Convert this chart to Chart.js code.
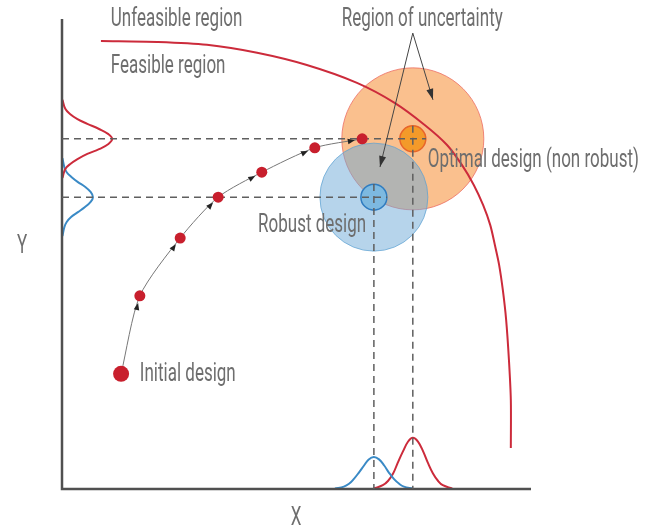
<!DOCTYPE html>
<html>
<head>
<meta charset="utf-8">
<script src="https://cdn.jsdelivr.net/npm/chart.js@4.4.0/dist/chart.umd.min.js"></script>
<style>
  html, body { margin: 0; padding: 0; background: #fff; }
</style>
</head>
<body>
<canvas id="robustChart" width="647" height="527"></canvas>
<script>
// limit (constraint) curve
const limitX = [0.83, 2.03, 3.09, 4.16, 5.22, 6.29, 7.10, 7.74, 8.21, 8.53, 8.78, 8.98, 9.13, 9.23, 9.32, 9.40, 9.47, 9.53, 9.57, 9.57];
const limitY = [9.53, 9.51, 9.45, 9.28, 9.02, 8.64, 8.21, 7.74, 7.32, 6.89, 6.47, 6.04, 5.62, 5.19, 4.77, 4.23, 3.60, 2.74, 1.89, 0.87];

// optimisation steps, first one is the initial design
const stepX = [1.26, 1.66, 2.52, 3.33, 4.26, 5.39, 6.40];
const stepY = [2.45, 4.11, 5.34, 6.21, 6.74, 7.26, 7.45];

// designs: robust, optimal (non robust)
const designX = [6.65, 7.48];
const designY = [6.21, 7.45];

// distributions on the Y axis (height = x)
const redYdistY = [8.28, 8.09, 7.98, 7.87, 7.77, 7.66, 7.55, 7.45, 7.34, 7.23, 7.13, 7.02, 6.91, 6.81, 6.62];
const redYdistX = [0.01, 0.07, 0.17, 0.33, 0.54, 0.79, 0.99, 1.07, 0.99, 0.79, 0.54, 0.33, 0.17, 0.07, 0.01];
const blueYdistY = [7.04, 6.85, 6.74, 6.64, 6.53, 6.43, 6.32, 6.21, 6.11, 6.00, 5.89, 5.79, 5.68, 5.57, 5.38];
const blueYdistX = [0.01, 0.05, 0.10, 0.20, 0.34, 0.49, 0.61, 0.66, 0.61, 0.49, 0.34, 0.20, 0.10, 0.05, 0.01];

// distributions on the X axis
const blueXdistX = [5.82, 6.01, 6.12, 6.22, 6.33, 6.44, 6.54, 6.65, 6.76, 6.87, 6.97, 7.08, 7.19, 7.29, 7.48];
const blueXdistY = [0.01, 0.05, 0.11, 0.21, 0.35, 0.50, 0.63, 0.68, 0.63, 0.50, 0.35, 0.21, 0.11, 0.05, 0.01];
const redXdistX = [6.65, 6.84, 6.95, 7.06, 7.16, 7.27, 7.38, 7.48, 7.59, 7.70, 7.80, 7.91, 8.02, 8.12, 8.32];
const redXdistY = [0.01, 0.08, 0.17, 0.33, 0.56, 0.80, 1.01, 1.09, 1.01, 0.80, 0.56, 0.33, 0.17, 0.08, 0.01];

// "Region of uncertainty" arrows
const arrowFrom = [7.48, 9.70];
const arrowToX = [7.91, 6.78];
const arrowToY = [8.28, 6.85];

// text labels
const labelText = ['Unfeasible region', 'Feasible region', 'Region of uncertainty',
                   'Optimal design (non robust)', 'Robust design', 'Initial design', 'Y', 'X'];
const labelX = [1.04, 1.04, 7.68, 7.80, 4.18, 1.66, -0.85, 4.99];
const labelY = [9.85, 8.85, 9.85, 6.85, 5.47, 2.30, 5.02, -0.77];
const labelAlign = ['left', 'left', 'center', 'left', 'left', 'left', 'center', 'center'];

const crossHalf = 0.28; // small crosshair reach past the design point

const pts = (xs, ys) => xs.map((x, i) => ({ x: x, y: ys[i] }));

const RED = '#cc2b3b';
const BLUE = '#3a8ac6';
const TEXT = '#6e6e6e';
const FONT = '400 25px Roboto, "Open Sans", sans-serif';
const SQUEEZE = 0.68; // the original uses a narrow typeface

function curve(data, color, order, extra) {
    return Object.assign({
        data: data, showLine: true, borderColor: color, borderWidth: 2,
        pointRadius: 0, tension: 0.4, fill: false, clip: false, order: order
    }, extra || {});
}

function dashed(i) {
    return {
        data: [
            { x: 0, y: designY[i] }, { x: designX[i] + crossHalf, y: designY[i] },
            { x: designX[i], y: null },
            { x: designX[i], y: designY[i] + crossHalf }, { x: designX[i], y: 0 }
        ],
        showLine: true, spanGaps: false, borderColor: '#5f5f5f', borderWidth: 1.5,
        borderDash: [7, 5], pointRadius: 0, clip: false, order: 30
    };
}

function arrowHead(ctx, tipX, tipY, dx, dy, len, half, color) {
    const d = Math.hypot(dx, dy) || 1;
    const ux = dx / d, uy = dy / d;
    ctx.beginPath();
    ctx.moveTo(tipX, tipY);
    ctx.lineTo(tipX - ux * len - uy * half, tipY - uy * len + ux * half);
    ctx.lineTo(tipX - ux * len + uy * half, tipY - uy * len - ux * half);
    ctx.closePath();
    ctx.fillStyle = color;
    ctx.fill();
}

const decorations = {
    id: 'decorations',
    afterDatasetsDraw(chart) {
        const ctx = chart.ctx;
        ctx.save();
        // arrowheads along the optimisation path
        const path = chart.getDatasetMeta(chart.data.datasets.findIndex(d => d.label === 'steps')).data;
        for (let i = 1; i < path.length; i++) {
            const a = path[i - 1], b = path[i];
            const dx = b.x - a.x, dy = b.y - a.y;
            const d = Math.hypot(dx, dy);
            const r = path[i].options.radius + 2;
            arrowHead(ctx, b.x - dx / d * r, b.y - dy / d * r, dx, dy, 7, 2.8, '#222');
        }
        // arrowheads for region of uncertainty
        chart.data.datasets.forEach((ds, k) => {
            if (ds.label !== 'uncertainty') return;
            const m = chart.getDatasetMeta(k).data;
            const a = m[0], b = m[1];
            arrowHead(ctx, b.x, b.y, b.x - a.x, b.y - a.y, 11, 3.5, '#333');
        });
        // labels (narrowed horizontally)
        const xs = chart.scales.x, ys = chart.scales.y;
        ctx.font = FONT;
        ctx.fillStyle = TEXT;
        ctx.textBaseline = 'alphabetic';
        labelText.forEach((t, i) => {
            ctx.save();
            ctx.translate(xs.getPixelForValue(labelX[i]), ys.getPixelForValue(labelY[i]));
            ctx.scale(SQUEEZE, 1);
            ctx.textAlign = labelAlign[i];
            ctx.fillText(t, 0, 0);
            ctx.restore();
        });
        ctx.restore();
    }
};

const datasets = [
    // big uncertainty regions
    { data: [{ x: designX[1], y: designY[1] }], pointRadius: 71, pointBackgroundColor: 'rgba(245,140,50,0.55)',
      pointBorderColor: 'rgba(236,110,100,0.8)', pointBorderWidth: 1, clip: false, order: 90 },
    { data: [{ x: designX[0], y: designY[0] }], pointRadius: 54, pointBackgroundColor: 'rgba(110,170,215,0.5)',
      pointBorderColor: 'rgba(90,160,210,0.7)', pointBorderWidth: 1, clip: false, order: 80 },
    // constraint
    curve(pts(limitX, limitY), RED, 70, { tension: 0.3 }),
    // distributions
    curve(pts(redYdistX, redYdistY), RED, 60),
    curve(pts(blueYdistX, blueYdistY), BLUE, 60),
    curve(pts(blueXdistX, blueXdistY), BLUE, 60),
    curve(pts(redXdistX, redXdistY), RED, 60),
    // axes
    curve([{ x: 0, y: 10 }, { x: 0, y: 0 }, { x: 10, y: 0 }], '#505050', 55, { tension: 0, borderWidth: 2.5 }),
    // small design markers
    { data: [{ x: designX[1], y: designY[1] }], pointRadius: 13, pointBackgroundColor: '#f39a2a',
      pointBorderColor: '#e8642a', pointBorderWidth: 1.5, clip: false, order: 40 },
    { data: [{ x: designX[0], y: designY[0] }], pointRadius: 13, pointBackgroundColor: '#7db9e0',
      pointBorderColor: '#2f7cc0', pointBorderWidth: 1.5, clip: false, order: 40 },
    dashed(0),
    dashed(1),
    // optimisation path
    { label: 'steps', data: pts(stepX, stepY), showLine: true, tension: 0.25, borderColor: '#777', borderWidth: 1,
      pointRadius: stepX.map((_, i) => i === 0 ? 8 : 5.5), pointBackgroundColor: '#c81f2d',
      pointBorderWidth: 0, clip: false, order: 20 },
    // region of uncertainty arrows
    ...arrowToX.map((x, i) => ({
        label: 'uncertainty', data: [{ x: arrowFrom[0], y: arrowFrom[1] }, { x: x, y: arrowToY[i] }],
        showLine: true, borderColor: '#444', borderWidth: 1, pointRadius: 0, clip: false, order: 10
    }))
];

new Chart(document.getElementById('robustChart').getContext('2d'), {
    type: 'scatter',
    data: { datasets: datasets },
    options: {
        responsive: false,
        animation: false,
        events: [],
        layout: { autoPadding: false, padding: { left: 62, right: 116, top: 19, bottom: 38 } },
        scales: {
            x: { type: 'linear', min: 0, max: 10, display: false },
            y: { type: 'linear', min: 0, max: 10, display: false }
        },
        plugins: { legend: { display: false }, tooltip: { enabled: false } }
    },
    plugins: [decorations]
});
</script>
</body>
</html>
